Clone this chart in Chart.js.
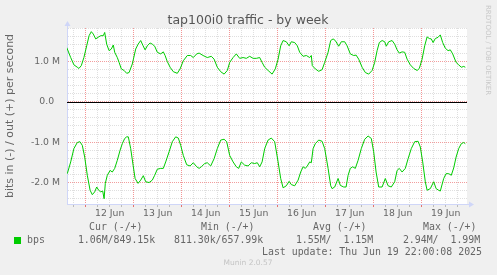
<!DOCTYPE html>
<html>
<head>
<meta charset="utf-8">
<title>tap100i0 traffic - by week</title>
<script src="https://cdn.jsdelivr.net/npm/chart.js@4/dist/chart.umd.min.js"></script>
<style>
html, body { margin: 0; padding: 0; background: #f0f0f0; }
canvas { display: block; }
</style>
</head>
<body>
<canvas id="idGrafica" width="497" height="275"></canvas>
<script>
// hours counted from 12 Jun 00:00, values in Mbit/s
var outHours = [-9.5, -7.5, -5.9, -4.2, -3.4, -2.2, -0.9, 0.5, 1.7, 2.8, 3.8, 5.0, 6.2, 7.5, 8.8, 9.5, 10.5, 11.7, 12.8, 13.8,
	14.5, 15.8, 16.7, 17.8, 19.2, 20.5, 21.7, 23.3, 25.0, 26.2, 27.5, 28.7, 29.7, 30.8, 32.2, 33.3, 34.5, 35.8, 37.5, 38.8,
	39.7, 40.8, 42.2, 43.8, 45.8, 47.2, 48.8, 50.8, 52.5, 53.8, 55.5, 56.7, 58.7, 60.8, 62.8, 64.2, 65.8, 67.5, 69.2, 70.8,
	72.0, 73.7, 75.3, 77.0, 78.7, 80.3, 82.0, 83.7, 85.3, 87.0, 88.2, 89.5, 91.2, 93.2, 94.8, 96.2, 97.5, 98.7, 100.3, 101.7,
	102.8, 104.5, 105.8, 107.0, 108.7, 110.3, 112.0, 112.8, 113.3, 114.8, 116.5, 118.2, 119.5, 121.2, 122.5, 123.7, 124.8, 126.5, 127.8, 129.5,
	130.7, 132.3, 134.0, 135.2, 136.5, 138.2, 139.8, 141.5, 143.2, 144.5, 145.7, 146.8, 148.2, 149.5, 150.3, 151.5, 153.2, 154.5, 155.7, 156.8,
	158.2, 159.5, 160.7, 162.3, 164.0, 165.7, 166.8, 168.2, 169.5, 170.7, 171.8, 172.8, 173.7, 174.8, 176.2, 177.3, 178.5, 179.8, 181.2, 182.3,
	183.5, 185.2, 186.5, 187.8, 189.0, 189.8];
var outValues = [1.34, 1.09, 0.91, 0.85, 0.82, 0.89, 1.09, 1.38, 1.63, 1.73, 1.67, 1.55, 1.59, 1.63, 1.63, 1.71, 1.42, 1.26, 1.30, 1.40,
	1.22, 1.09, 0.97, 0.81, 0.77, 0.70, 0.72, 0.93, 1.30, 1.42, 1.51, 1.38, 1.28, 1.38, 1.45, 1.42, 1.37, 1.22, 1.18, 1.23,
	1.14, 0.99, 0.85, 0.74, 0.70, 0.81, 1.01, 1.14, 1.14, 1.09, 1.18, 1.20, 1.14, 1.09, 1.12, 1.05, 0.85, 0.74, 0.68, 0.77,
	0.97, 1.09, 1.18, 1.07, 1.09, 1.07, 1.12, 1.07, 1.07, 1.09, 0.97, 0.85, 0.77, 0.68, 0.81, 1.05, 1.38, 1.51, 1.48, 1.38,
	1.48, 1.46, 1.38, 1.22, 1.12, 1.14, 1.09, 1.14, 0.89, 0.81, 0.75, 0.79, 0.97, 1.22, 1.51, 1.55, 1.51, 1.37, 1.48, 1.48,
	1.38, 1.18, 1.14, 1.15, 1.05, 0.85, 0.72, 0.68, 0.77, 0.97, 1.26, 1.46, 1.51, 1.48, 1.37, 1.48, 1.51, 1.42, 1.28, 1.20,
	1.23, 1.22, 1.05, 0.91, 0.82, 0.77, 0.82, 1.05, 1.38, 1.60, 1.56, 1.55, 1.46, 1.56, 1.59, 1.65, 1.46, 1.32, 1.26, 1.28,
	1.18, 0.97, 0.91, 0.85, 0.87, 0.85];
var inHours = [-9.2, -7.5, -5.9, -4.2, -2.9, -1.7, -0.5, 0.8, 2.2, 3.3, 4.5, 5.5, 6.5, 7.5, 8.5, 9.2, 9.8, 10.8, 12.2, 13.3,
	14.5, 15.8, 17.2, 18.3, 19.5, 20.5, 21.3, 22.5, 23.7, 24.7, 26.2, 27.5, 28.8, 30.0, 31.7, 33.3, 34.5, 35.8, 37.5, 38.8,
	40.0, 41.7, 43.3, 45.0, 46.3, 47.5, 48.8, 50.5, 52.2, 53.8, 55.5, 56.7, 57.8, 59.5, 60.8, 62.5, 64.2, 65.8, 67.5, 69.2,
	70.5, 72.0, 73.7, 75.3, 76.5, 77.8, 79.5, 81.2, 82.8, 84.5, 85.8, 87.0, 88.2, 89.5, 91.2, 92.8, 94.5, 96.2, 97.5, 98.7,
	100.3, 101.7, 102.8, 104.5, 106.2, 107.5, 108.7, 109.8, 110.8, 112.0, 112.8, 113.7, 114.8, 116.5, 118.2, 119.5, 121.2, 122.5, 123.2, 124.5,
	126.2, 127.3, 129.0, 130.2, 131.2, 132.3, 133.5, 134.8, 136.2, 137.8, 139.5, 141.2, 142.8, 144.0, 145.2, 146.5, 148.2, 149.8, 151.2, 152.8,
	154.5, 155.7, 156.8, 158.2, 159.8, 161.2, 162.8, 164.5, 166.2, 167.3, 168.5, 169.8, 170.7, 172.3, 174.0, 175.2, 176.5, 177.3, 179.0, 180.2,
	181.5, 182.8, 184.0, 185.2, 186.5, 187.8, 189.0, 189.8];
var inValues = [-1.78, -1.49, -1.16, -1.01, -0.99, -1.08, -1.37, -1.82, -2.19, -2.30, -2.23, -2.11, -2.19, -2.23, -2.21, -2.40, -2.02, -1.82, -1.70, -1.74,
	-1.65, -1.45, -1.20, -1.04, -0.91, -0.87, -0.87, -1.16, -1.57, -1.90, -2.02, -1.94, -1.83, -1.98, -2.00, -1.94, -1.82, -1.67, -1.65, -1.65,
	-1.49, -1.24, -0.99, -0.87, -0.90, -1.08, -1.33, -1.56, -1.59, -1.51, -1.61, -1.65, -1.61, -1.53, -1.51, -1.59, -1.41, -1.16, -0.95, -0.93,
	-0.99, -1.33, -1.49, -1.61, -1.65, -1.49, -1.57, -1.59, -1.51, -1.53, -1.51, -1.61, -1.49, -1.16, -0.95, -0.90, -0.99, -1.49, -1.90, -2.13,
	-2.08, -1.97, -2.05, -2.08, -1.94, -1.74, -1.61, -1.65, -1.59, -1.49, -1.51, -1.16, -1.04, -0.95, -0.98, -1.16, -1.65, -2.08, -2.15, -2.11,
	-1.90, -2.07, -2.11, -2.11, -1.82, -1.65, -1.61, -1.65, -1.45, -1.16, -0.93, -0.85, -0.91, -1.24, -1.74, -2.11, -2.11, -1.90, -2.08, -2.11,
	-1.98, -1.70, -1.65, -1.74, -1.65, -1.41, -1.16, -0.99, -0.98, -1.12, -1.49, -1.98, -2.19, -2.15, -1.98, -2.15, -2.19, -2.21, -1.90, -1.78,
	-1.78, -1.82, -1.64, -1.37, -1.16, -1.04, -1.01, -1.04];

var dayLabels = ['12 Jun', '13 Jun', '14 Jun', '15 Jun', '16 Jun', '17 Jun', '18 Jun', '19 Jun'];
var yTickValues = [-2, -1, 0, 1];
var yTickLabels = ['-2.0 M', '-1.0 M', '0.0  ', '1.0 M'];

var statNames = ['Cur', 'Min', 'Avg', 'Max'];
var statIn = ['1.06M', '811.30k', '1.55M', '2.94M'];
var statOut = ['849.15k', '657.99k', '1.15M', '1.99M'];

var grisGrid = 'rgba(150,150,150,0.3)';
var rojoGrid = 'rgba(230,60,60,0.5)';
var rojoDia = 'rgba(235,80,80,0.6)';
var verde = '#00cc00';
var textoColor = '#666666';

function esEntero(v) {
	return Math.abs(v - Math.round(v)) < 1e-6;
}

function esDia(c) {
	return !!(c.tick && Math.abs(c.tick.value % 24) < 1e-6);
}

function puntos(hs, vs) {
	var r = [];
	for (let i in hs) {
		r.push({ x: hs[i], y: vs[i] });
	}
	return r;
}

var decor = {
	id: 'decor',
	beforeDraw: function (chart) {
		var c = chart.ctx, a = chart.chartArea;
		c.save();
		c.fillStyle = '#f0f0f0';
		c.fillRect(0, 0, chart.width, chart.height);
		c.fillStyle = '#ffffff';
		c.fillRect(a.left, a.top, a.right - a.left, a.bottom - a.top);
		c.restore();
	},
	beforeDatasetsDraw: function (chart) {
		var c = chart.ctx, a = chart.chartArea;
		var y0 = Math.round(chart.scales.y.getPixelForValue(0)) + 0.5;
		c.save();
		c.strokeStyle = '#000000';
		c.lineWidth = 1;
		c.beginPath();
		c.moveTo(a.left, y0);
		c.lineTo(a.right, y0);
		c.stroke();
		c.restore();
	},
	afterDraw: function (chart) {
		var c = chart.ctx, a = chart.chartArea;
		c.save();
		// flechas de los ejes
		c.fillStyle = '#cfd6f8';
		c.strokeStyle = '#cfd6f8';
		c.lineWidth = 1;
		c.beginPath();
		c.moveTo(a.left + 0.5, a.top);
		c.lineTo(a.left + 0.5, a.top - 3);
		c.moveTo(a.right, a.bottom + 0.5);
		c.lineTo(a.right + 3, a.bottom + 0.5);
		c.stroke();
		c.beginPath();
		c.moveTo(a.left + 0.5, a.top - 7);
		c.lineTo(a.left - 2.5, a.top - 2);
		c.lineTo(a.left + 3.5, a.top - 2);
		c.closePath();
		c.fill();
		c.beginPath();
		c.moveTo(a.right + 7, a.bottom + 0.5);
		c.lineTo(a.right + 2, a.bottom - 2.5);
		c.lineTo(a.right + 2, a.bottom + 3.5);
		c.closePath();
		c.fill();

		// titulo
		c.fillStyle = '#555555';
		c.font = '12.5px "DejaVu Sans"';
		c.textAlign = 'center';
		c.textBaseline = 'alphabetic';
		c.fillText('tap100i0 traffic - by week', 248, 24);

		// texto lateral
		c.save();
		c.translate(488, 5);
		c.rotate(Math.PI / 2);
		c.font = '7px "DejaVu Sans"';
		c.fillStyle = '#c8c8c8';
		c.textAlign = 'left';
		c.textBaseline = 'middle';
		c.fillText('RRDTOOL / TOBI OETIKER', 0, 0);
		c.restore();

		// leyenda
		c.font = '9.9px "DejaVu Sans Mono"';
		c.fillStyle = textoColor;
		c.textAlign = 'left';
		c.textBaseline = 'middle';
		var colX = [66, 174, 284, 391];
		var headX = [89, 201, 313, 423];
		for (let i in statNames) {
			c.fillText(statNames[i] + ' (-/+)', headX[i], 227);
			c.fillText(statIn[i].padStart(7, ' ') + '/' + statOut[i].padStart(7, ' '), colX[i], 240);
		}
		c.fillText('bps', 27, 240);
		c.fillText('Last update: Thu Jun 19 22:00:08 2025', 262, 252.5);
		c.fillStyle = verde;
		c.fillRect(14, 237, 7, 7);

		c.font = '7.5px "DejaVu Sans"';
		c.fillStyle = '#c4c4c4';
		c.textAlign = 'center';
		c.fillText('Munin 2.0.57', 248, 263.5);
		c.restore();
	}
};

var ctx = document.getElementById('idGrafica').getContext('2d');
var myChart = new Chart(ctx, {
	type: 'line',
	data: {
		datasets: [
			{
				label: 'bps out',
				data: puntos(outHours, outValues),
				borderColor: verde,
				borderWidth: 1,
				pointRadius: 0,
				tension: 0,
				fill: false
			},
			{
				label: 'bps in',
				data: puntos(inHours, inValues),
				borderColor: verde,
				borderWidth: 1,
				pointRadius: 0,
				tension: 0,
				fill: false
			}
		]
	},
	options: {
		responsive: false,
		animation: false,
		layout: { padding: { top: 28, right: 30, bottom: 0, left: 0 } },
		plugins: {
			legend: { display: false },
			tooltip: { enabled: false },
			title: { display: false }
		},
		scales: {
			x: {
				type: 'linear',
				min: -9.35,
				max: 190.65,
				afterBuildTicks: function (s) {
					var t = [];
					for (let h = -6; h <= 186; h += 6) t.push({ value: h });
					s.ticks = t;
				},
				afterFit: function (s) { s.height = 71; },
				ticks: {
					autoSkip: false,
					maxRotation: 0,
					padding: 1,
					color: textoColor,
					font: { family: 'DejaVu Sans', size: 9.3 },
					callback: function (v) {
						if ((v - 12) % 24 === 0) return dayLabels[(v - 12) / 24];
						return '';
					}
				},
				grid: {
					color: function (c) { return esDia(c) ? rojoDia : grisGrid; },
					tickColor: function (c) { return esDia(c) ? 'rgba(225,80,80,0.8)' : 'rgba(150,150,150,0.6)'; },
					tickLength: 3,
					lineWidth: 1
				},
				border: { color: '#cfd6f8', dash: [1, 1] }
			},
			y: {
				min: -2.53,
				max: 1.82,
				afterBuildTicks: function (s) {
					var t = [];
					for (let i = -12; i <= 9; i++) t.push({ value: i / 5 });
					s.ticks = t;
				},
				afterFit: function (s) { s.width = 67; },
				ticks: {
					autoSkip: false,
					padding: 7,
					color: textoColor,
					font: { family: 'DejaVu Sans', size: 9.3 },
					callback: function (v) {
						for (let i in yTickValues) {
							if (Math.abs(v - yTickValues[i]) < 1e-6) return yTickLabels[i];
						}
						return '';
					}
				},
				grid: {
					drawTicks: false,
					color: function (c) {
						return c.tick && esEntero(c.tick.value) ? rojoGrid : grisGrid;
					},
					lineWidth: 1
				},
				border: { color: '#cfd6f8', dash: [1, 1] },
				title: {
					display: true,
					text: 'bits in (-) / out (+) per second',
					color: textoColor,
					font: { family: 'DejaVu Sans', size: 11 },
					padding: { top: 4, bottom: 0 }
				}
			}
		}
	},
	plugins: [decor]
});
</script>
</body>
</html>
